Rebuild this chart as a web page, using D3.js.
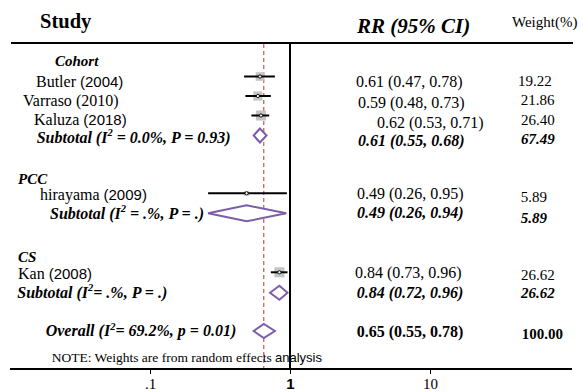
<!DOCTYPE html>
<html>
<head>
<meta charset="utf-8">
<script src="https://cdn.jsdelivr.net/npm/d3@7"></script>
<style>
  html, body { margin: 0; padding: 0; background: #fff; }
  svg { display: block; }
</style>
</head>
<body>
<svg id="chart" width="583" height="392"></svg>
<script>
// ---------------- DATA ----------------
const studyNames   = ["Butler", "Varraso", "Kaluza", "hirayama", "Kan"];
const studyYears   = ["(2004)", "(2010)", "(2018)", "(2009)", "(2008)"];
const studyGroups  = ["Cohort", "Cohort", "Cohort", "PCC", "CS"];
const studyRR      = [0.61, 0.59, 0.62, 0.49, 0.84];
const studyLo      = [0.47, 0.48, 0.53, 0.26, 0.73];
const studyHi      = [0.78, 0.73, 0.71, 0.95, 0.96];
const studyWeight  = [19.22, 21.86, 26.40, 5.89, 26.62];

const groupNames   = ["Cohort", "PCC", "CS"];
const groupRR      = [0.61, 0.49, 0.84];
const groupLo      = [0.55, 0.26, 0.72];
const groupHi      = [0.68, 0.94, 0.96];
const groupWeight  = [67.49, 5.89, 26.62];
const groupHet     = [["  (I", " = 0.0%, P = 0.93)"], [" (I", " = .%, P = .)"], [" (I", "= .%, P = .)"]];

const overallRR = 0.65, overallLo = 0.55, overallHi = 0.78, overallWeight = 100.00;
const overallHet = ["Overall  (I", "= 69.2%, p = 0.01)"];

const tickValues = [0.1, 1, 10];
const tickLabels = [".1", "1", "10"];

const headers = ["Study", "RR (95% CI)", "Weight(%)"];
const noteText = ["NOTE: Weights are from random effects ", "analysis"];

// ---------------- LAYOUT (positions only) ----------------
const serif = "'Liberation Serif', 'Times New Roman', serif";
const sans  = "'Liberation Sans', Arial, sans-serif";
const studyLabelX = [36, 23, 34, 40, 18];
const studyLabelY = [81.7, 100.7, 119.3, 194.3, 274];
const studyMarkY  = [76.5, 96, 115.5, 193.3, 272.3];
const studyCIX    = [356, 358, 377, 357, 355];
const studyCIY    = [81.7, 103, 122.7, 193.3, 272.3];
const studyWX     = [518, 520.7, 521, 520.7, 521];
const studyWY     = [81, 100, 120, 196.7, 275];
const yearSans    = [true, false, true, true, true];

const groupHeadX  = [55, 18, 18];
const groupHeadY  = [61, 179.3, 256.7];
const groupSubX   = [36.7, 50, 17.3];
const groupSubY   = [137.3, 213.3, 292.7];
const groupMarkY  = [135.5, 213.3, 292.7];
const groupDiaH   = [14, 16, 14];
const groupCIX    = [358, 357, 356.7];
const groupCIY    = [140.7, 212.7, 292.3];
const groupWX     = [521, 520.7, 521];
const groupWY     = [139, 218.3, 293.3];

// ---------------- DRAW ----------------
const svg = d3.select("#chart");
const x = d3.scaleLog().domain([0.01, 100]).range([10, 570]);
const axisY = 369, topY = 43;
const fmt2 = d3.format(".2f");
const ciStr = (r, l, h) => `${fmt2(r)} (${fmt2(l)}, ${fmt2(h)})`;
const base = (cy, fs) => cy + fs * 0.33;

// header
svg.append("text").attr("x", 40).attr("y", 27.5).attr("font-family", serif)
  .attr("font-weight", "bold").attr("font-size", 20.5).text(headers[0]);
svg.append("text").attr("x", 357).attr("y", 33).attr("font-family", serif)
  .attr("font-weight", "bold").attr("font-style", "italic").attr("font-size", 21).text(headers[1]);
svg.append("text").attr("x", 512).attr("y", 27).attr("font-family", serif)
  .attr("font-size", 15).text(headers[2]);

// top rule
svg.append("line").attr("x1", 11).attr("x2", 573).attr("y1", topY).attr("y2", topY)
  .attr("stroke", "#000").attr("stroke-width", 2.2);

// reference line at 1
svg.append("line").attr("x1", x(1)).attr("x2", x(1)).attr("y1", topY).attr("y2", axisY)
  .attr("stroke", "#000").attr("stroke-width", 2);

// overall effect dashed line
svg.append("line").attr("x1", x(overallRR)).attr("x2", x(overallRR)).attr("y1", topY + 1).attr("y2", axisY)
  .attr("stroke", "#b5363a").attr("stroke-width", 1).attr("stroke-dasharray", "4,3");

// axis
const axis = d3.axisBottom(x).tickValues(tickValues).tickSize(5)
  .tickFormat((d, i) => tickLabels[i]);
const gAxis = svg.append("g").attr("transform", `translate(0,${axisY})`).call(axis);
gAxis.select(".domain").attr("stroke", "#000").attr("stroke-width", 2)
  .attr("d", `M10,0H572`);
gAxis.selectAll(".tick line").attr("stroke", "#000").attr("stroke-width", 1);
gAxis.selectAll(".tick text").attr("y", 19.5).attr("dy", 0)
  .attr("font-size", 15).attr("fill", "#000")
  .attr("font-family", (d, i) => i === 1 ? sans : serif)
  .attr("font-weight", (d, i) => i === 1 ? "bold" : "normal");

// group headers
groupNames.forEach((g, i) => {
  svg.append("text").attr("x", groupHeadX[i]).attr("y", base(groupHeadY[i], 15))
    .attr("font-family", serif).attr("font-weight", "bold").attr("font-style", "italic")
    .attr("font-size", 15).text(g);
});

// studies
studyNames.forEach((n, i) => {
  const t = svg.append("text").attr("x", studyLabelX[i]).attr("y", base(studyLabelY[i], 16))
    .attr("font-size", 16).attr("font-family", serif);
  t.append("tspan").text(n + " ");
  t.append("tspan").attr("font-family", yearSans[i] ? sans : serif)
    .attr("font-size", yearSans[i] ? 15 : 16).text(studyYears[i]);

  const y = studyMarkY[i];
  const s = 1.95 * Math.sqrt(studyWeight[i]);
  svg.append("rect").attr("x", x(studyRR[i]) - s / 2).attr("y", y - s / 2)
    .attr("width", s).attr("height", s).attr("fill", "#c4c4c4");
  svg.append("line").attr("x1", x(studyLo[i])).attr("x2", x(studyHi[i]))
    .attr("y1", y).attr("y2", y).attr("stroke", "#000").attr("stroke-width", 2);
  svg.append("circle").attr("cx", x(studyRR[i])).attr("cy", y).attr("r", 1.6)
    .attr("fill", "#fff").attr("stroke", "#000").attr("stroke-width", 0.9);

  svg.append("text").attr("x", studyCIX[i]).attr("y", base(studyCIY[i], 16))
    .attr("font-family", serif).attr("font-size", 16)
    .text(ciStr(studyRR[i], studyLo[i], studyHi[i]));
  svg.append("text").attr("x", studyWX[i]).attr("y", base(studyWY[i], 15))
    .attr("font-family", serif).attr("font-size", 15).text(fmt2(studyWeight[i]));
});

// diamonds
function diamond(rr, lo, hi, y, h) {
  const pts = [[x(lo), y], [x(rr), y - h / 2], [x(hi), y], [x(rr), y + h / 2]];
  svg.append("polygon").attr("points", pts.map(p => p.join(",")).join(" "))
    .attr("fill", "#fff").attr("stroke", "#7c5ea8").attr("stroke-width", 2);
}
function hetLabel(xp, cy, parts, prefix) {
  const t = svg.append("text").attr("x", xp).attr("y", base(cy, 16))
    .attr("font-family", serif).attr("font-weight", "bold").attr("font-style", "italic")
    .attr("font-size", 16);
  t.append("tspan").text(prefix + parts[0]);
  t.append("tspan").attr("dy", -6.5).attr("font-size", 10.5).text("2");
  t.append("tspan").attr("dy", 6.5).text(parts[1]);
}

groupNames.forEach((g, i) => {
  hetLabel(groupSubX[i], groupSubY[i], groupHet[i], "Subtotal");
  diamond(groupRR[i], groupLo[i], groupHi[i], groupMarkY[i], groupDiaH[i]);
  svg.append("text").attr("x", groupCIX[i]).attr("y", base(groupCIY[i], 16))
    .attr("font-family", serif).attr("font-weight", "bold").attr("font-style", "italic")
    .attr("font-size", 16).text(ciStr(groupRR[i], groupLo[i], groupHi[i]));
  svg.append("text").attr("x", groupWX[i]).attr("y", base(groupWY[i], 15))
    .attr("font-family", serif).attr("font-weight", "bold").attr("font-style", "italic")
    .attr("font-size", 15).text(fmt2(groupWeight[i]));
});

// overall
hetLabel(45.7, 331, overallHet, "");
diamond(overallRR, overallLo, overallHi, 331, 14);
svg.append("text").attr("x", 356.7).attr("y", base(331.7, 16))
  .attr("font-family", serif).attr("font-weight", "bold").attr("font-size", 16)
  .text(ciStr(overallRR, overallLo, overallHi));
svg.append("text").attr("x", 521.7).attr("y", base(334, 15))
  .attr("font-family", serif).attr("font-weight", "bold").attr("font-size", 15)
  .text(fmt2(overallWeight));

// note
const note = svg.append("text").attr("x", 51.7).attr("y", base(358, 13.5))
  .attr("font-family", serif).attr("font-size", 13.5);
note.append("tspan").text(noteText[0]);
note.append("tspan").attr("font-family", sans).attr("font-size", 13).text(noteText[1]);
</script>
</body>
</html>
